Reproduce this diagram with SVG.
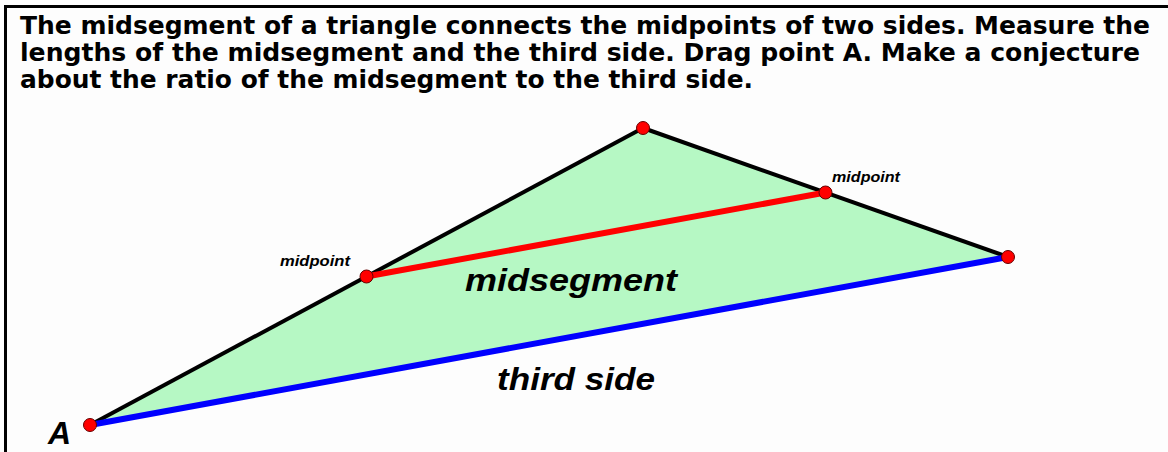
<svg xmlns="http://www.w3.org/2000/svg" width="1168" height="452" viewBox="0 0 1168 452">
<style>
.title{font-family:"DejaVu Sans",Verdana,sans-serif;font-weight:bold;font-size:25px;fill:#000}
.lbl{font-family:"Liberation Sans",Arial,sans-serif;font-weight:bold;font-style:italic;fill:#000}
.pt{fill:#ff0000;stroke:#600;stroke-width:1}
</style>
<rect x="0" y="0" width="1168" height="452" fill="#fdfdfd"/>
<polyline points="5.5,452 5.5,6.5 1168,6.5" fill="none" stroke="#000" stroke-width="3"/>
<g id="title">
<text class="title" x="20" y="34" textLength="1130" lengthAdjust="spacingAndGlyphs">The midsegment of a triangle connects the midpoints of two sides. Measure the</text>
<text class="title" x="20" y="61" textLength="1120" lengthAdjust="spacingAndGlyphs">lengths of the midsegment and the third side. Drag point A. Make a conjecture</text>
<text class="title" x="20" y="88" textLength="733" lengthAdjust="spacingAndGlyphs">about the ratio of the midsegment to the third side.</text>
</g>
<g id="triangle">
<polygon points="90,425 643,128 1008,257" fill="#b6f8c4"/>
</g>
<g id="connectors">
<line x1="90" y1="425" x2="643" y2="128" stroke="#000" stroke-width="4"/>
<line x1="643" y1="128" x2="1008" y2="257" stroke="#000" stroke-width="4"/>
<line id="third-side" x1="90" y1="425" x2="1008" y2="257" stroke="#0000ff" stroke-width="6"/>
<line id="midsegment" x1="366.5" y1="276.5" x2="825.5" y2="192.5" stroke="#ff0000" stroke-width="6"/>
</g>
<g id="point-A"><circle class="pt" cx="90" cy="425" r="6.5"/><text class="lbl" x="48" y="444" font-size="32">A</text></g>
<g id="point-top"><circle class="pt" cx="643" cy="128" r="6.5"/></g>
<g id="point-right"><circle class="pt" cx="1008" cy="257" r="6.5"/></g>
<g id="midpoint-left"><circle class="pt" cx="366.5" cy="276.5" r="6.5"/><text class="lbl" x="280" y="266" font-size="14" textLength="70" lengthAdjust="spacingAndGlyphs">midpoint</text></g>
<g id="midpoint-right"><circle class="pt" cx="825.5" cy="192.5" r="6.5"/><text class="lbl" x="832" y="182" font-size="14" textLength="68" lengthAdjust="spacingAndGlyphs">midpoint</text></g>
<g id="labels">
<text class="lbl" x="465" y="291" font-size="32" textLength="212" lengthAdjust="spacingAndGlyphs">midsegment</text>
<text class="lbl" x="497" y="390" font-size="32" textLength="158" lengthAdjust="spacingAndGlyphs">third side</text>
</g>
</svg>
